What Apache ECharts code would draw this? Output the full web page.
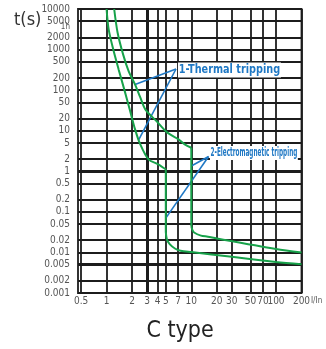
<!DOCTYPE html>
<html><head><meta charset="utf-8">
<script src="https://cdn.jsdelivr.net/npm/echarts@6/dist/echarts.min.js"></script>
<style>html,body{margin:0;padding:0;background:#fff}#c{width:326px;height:349px}</style>
</head><body><div id="c"></div>
<script>
// Tick labels
const xTicks = ['0.5','1','2','3','4','5','7','10','20','30','50','70','100','200'];
const yTicks = ['10000','5000','2000','1000','500','200','100','50','20','10','5','2','1','0.5','0.2','0.1','0.05','0.02','0.01','0.005','0.002','0.001'];
const thickX = ['3'];
const thickY = ['1','0.005'];
const hourValue = 3600;

// Curve 1 (lower bound): thermal part, magnetic vertical, tail
const thermalA_I = [1.0, 1.06, 1.2, 1.39, 1.62, 1.88, 2.17, 2.5, 3.13, 4.07, 5];
const thermalA_t = [10000, 3090, 1000, 320, 103, 33, 10.8, 4.6, 1.97, 1.49, 1.12];
const verticalA_I = [5, 5];
const verticalA_t = [1.12, 0.032];
const tailA_I = [5, 5.15, 5.56, 6.41, 7.47, 10, 30, 100, 200];
const tailA_t = [0.032, 0.021, 0.016, 0.0125, 0.011, 0.0102, 0.0078, 0.0058, 0.0051];

// Curve 2 (upper bound)
const thermalB_I = [1.23, 1.35, 1.57, 1.83, 2.17, 2.5, 2.88, 3.91, 5.18, 7.07, 8.37, 10];
const thermalB_t = [10000, 2600, 750, 286, 137, 66, 33, 17, 9.1, 6.1, 4.6, 3.8];
const verticalB_I = [10, 10];
const verticalB_t = [3.8, 0.044];
const tailB_I = [10, 10.3, 10.8, 13.0, 15.7, 20, 100, 200];
const tailB_t = [0.044, 0.036, 0.031, 0.026, 0.0244, 0.022, 0.0122, 0.01];

// Annotation leader lines [apex, end, end]
const arrow1 = [[6.6, 332], [2.17, 137], [2.4, 6]];
const arrow2 = [[16, 2.31], [10, 1.35], [5, 0.07]];

const FONT = "'Liberation Sans Narrow','DejaVu Sans Condensed','Arial Narrow',sans-serif";
const GREEN = '#17a24a';
const BLUE = '#1f78c4';
const GRID = '#1c1c1c';

const zip = (a, b) => a.map((v, i) => [v, b[i]]);

const gridLines = [];
xTicks.forEach(l => gridLines.push({
  xAxis: parseFloat(l),
  lineStyle: {width: thickX.includes(l) ? 3 : 1.8, color: GRID, type: 'solid'},
  label: {show: true, formatter: l, position: 'start', distance: 3, fontSize: 10, color: '#555', fontFamily: FONT}
}));
yTicks.forEach(l => gridLines.push({
  yAxis: parseFloat(l),
  lineStyle: {width: thickY.includes(l) ? 3 : 1.8, color: GRID, type: 'solid'},
  label: {show: true, formatter: l, position: 'start', distance: 8, fontSize: 10, color: '#555', fontFamily: FONT}
}));
gridLines.push({
  yAxis: hourValue,
  lineStyle: {width: 0, color: 'rgba(0,0,0,0)'},
  label: {show: true, formatter: '1h', position: 'start', distance: 8, fontSize: 8, color: '#555', fontFamily: FONT}
});

function curve(I, t, smooth) {
  return {type: 'line', data: zip(I, t), showSymbol: false, smooth: smooth, z: 5,
    lineStyle: {color: GREEN, width: 2}, silent: true, animation: false};
}
function leader(a) {
  return [[{coord: a[0]}, {coord: a[1]}], [{coord: a[0]}, {coord: a[2]}]];
}

const chart = echarts.init(document.getElementById('c'), null, {renderer: 'canvas'});
chart.setOption({
  animation: false,
  backgroundColor: '#fff',
  grid: {left: 78, top: 9, width: 223.5, height: 284, show: true, borderColor: GRID, borderWidth: 1.8, backgroundColor: 'transparent'},
  xAxis: {type: 'log', logBase: 10, min: 0.46, max: 200, axisLine: {show: false}, axisTick: {show: false}, axisLabel: {show: false}, splitLine: {show: false}},
  yAxis: {type: 'log', logBase: 10, min: 0.001, max: 10000, axisLine: {show: false}, axisTick: {show: false}, axisLabel: {show: false}, splitLine: {show: false}},
  series: [
    {type: 'line', data: [], silent: true, z: 1,
      markLine: {silent: true, precision: 8, symbol: ['none', 'none'], animation: false, data: gridLines}},
    curve(thermalA_I, thermalA_t, 0.3),
    curve(verticalA_I, verticalA_t, false),
    curve(tailA_I, tailA_t, 0.3),
    curve(thermalB_I, thermalB_t, 0.3),
    curve(verticalB_I, verticalB_t, false),
    curve(tailB_I, tailB_t, 0.3),
    {type: 'line', data: [], silent: true, z: 8,
      markLine: {silent: true, precision: 8, symbol: ['none', 'none'], animation: false,
        lineStyle: {color: BLUE, width: 1.6, type: 'solid'}, label: {show: false},
        data: leader(arrow1).concat(leader(arrow2))}}
  ],
  graphic: [
    {type: 'text', left: 14, top: 11, z: 100, style: {text: 't(s)', fontSize: 18, fill: '#333', fontFamily: FONT}},
    {type: 'text', x: 178, y: 70, z: 100, scaleX: 0.83, style: {text: '1-Thermal tripping', fontSize: 13, fontWeight: 'bold', fill: BLUE, fontFamily: FONT, verticalAlign: 'middle', backgroundColor: '#fff', padding: [1, 1]}},
    {type: 'text', x: 210, y: 153, z: 100, scaleX: 0.53, style: {text: '2-Electromagnetic tripping', fontSize: 12, fontWeight: 'bold', fill: BLUE, fontFamily: FONT, verticalAlign: 'middle', backgroundColor: '#fff', padding: [1, 1]}},
    {type: 'text', x: 311, y: 301, z: 100, style: {text: 'I/In', fontSize: 8, fill: '#555', fontFamily: FONT, verticalAlign: 'middle'}},
    {type: 'text', x: 180, y: 331, z: 100, style: {text: 'C type', fontSize: 23, fill: '#222', fontFamily: FONT, align: 'center', verticalAlign: 'middle'}}
  ]
});
</script></body></html>
